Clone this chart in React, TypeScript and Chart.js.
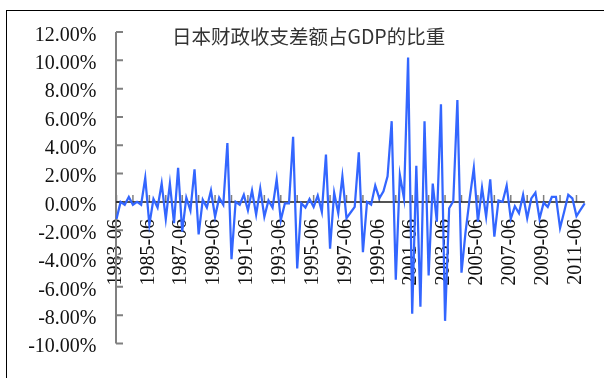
import React, { useEffect, useRef } from "react";
import { Chart, registerables } from "chart.js";

Chart.register(...registerables);

const TITLE = "日本财政收支差额占GDP的比重";

// Quarter-end dates, 1983-06 through 2011-12
const quarters: string[] = [
  "1983-06", "1983-09", "1983-12",
  "1984-03", "1984-06", "1984-09", "1984-12",
  "1985-03", "1985-06", "1985-09", "1985-12",
  "1986-03", "1986-06", "1986-09", "1986-12",
  "1987-03", "1987-06", "1987-09", "1987-12",
  "1988-03", "1988-06", "1988-09", "1988-12",
  "1989-03", "1989-06", "1989-09", "1989-12",
  "1990-03", "1990-06", "1990-09", "1990-12",
  "1991-03", "1991-06", "1991-09", "1991-12",
  "1992-03", "1992-06", "1992-09", "1992-12",
  "1993-03", "1993-06", "1993-09", "1993-12",
  "1994-03", "1994-06", "1994-09", "1994-12",
  "1995-03", "1995-06", "1995-09", "1995-12",
  "1996-03", "1996-06", "1996-09", "1996-12",
  "1997-03", "1997-06", "1997-09", "1997-12",
  "1998-03", "1998-06", "1998-09", "1998-12",
  "1999-03", "1999-06", "1999-09", "1999-12",
  "2000-03", "2000-06", "2000-09", "2000-12",
  "2001-03", "2001-06", "2001-09", "2001-12",
  "2002-03", "2002-06", "2002-09", "2002-12",
  "2003-03", "2003-06", "2003-09", "2003-12",
  "2004-03", "2004-06", "2004-09", "2004-12",
  "2005-03", "2005-06", "2005-09", "2005-12",
  "2006-03", "2006-06", "2006-09", "2006-12",
  "2007-03", "2007-06", "2007-09", "2007-12",
  "2008-03", "2008-06", "2008-09", "2008-12",
  "2009-03", "2009-06", "2009-09", "2009-12",
  "2010-03", "2010-06", "2010-09", "2010-12",
  "2011-03", "2011-06", "2011-09", "2011-12",
];

// Fiscal balance as a share of GDP, in percent
const balanceShare: number[] = [
  -1.2, 0.0, -0.2, 0.35, -0.2, 0.0, -0.2, 1.7, -1.6, 0.2,
  -0.4, 1.3, -1.2, 1.3, -1.5, 2.4, -2.1, 0.3, -0.6, 2.3,
  -2.3, 0.15, -0.4, 0.8, -1.05, 0.3, -0.2, 4.15, -4.05, 0.0,
  -0.2, 0.5, -0.6, 0.8, -0.9, 0.95, -1.05, 0.1, -0.4, 1.6,
  -1.3, -0.1, -0.1, 4.6, -4.7, -0.1, -0.4, 0.2, -0.35, 0.45,
  -0.7, 3.35, -3.3, 0.65, -0.8, 1.8, -1.15, -0.75, -0.35, 3.5,
  -3.55, 0.0, -0.2, 1.15, 0.25, 0.75, 1.8, 5.7, -5.5, 1.9,
  0.25, 10.2, -7.9, 2.55, -7.4, 5.7, -5.2, 1.3, -1.4, 6.9,
  -8.4, -0.45, 0.05, 7.2, -5.0, -2.1, 0.25, 2.4, -1.4, 1.0,
  -1.05, 1.6, -2.45, 0.1, 0.0, 1.15, -1.2, -0.3, -0.8, 0.5,
  -1.15, 0.25, 0.65, -1.2, -0.05, -0.35, 0.35, 0.35, -1.85, -0.7,
  0.5, 0.25, -1.0, -0.55, -0.1,
];

const Y_MIN = -10;
const Y_MAX = 12;
const Y_STEP = 2;
const LABEL_EVERY = 8; // a date label every two years
const TICK_EVERY = 4; // a small tick every year

const LINE_COLOR = "#3366FF";
const AXIS_GRAY = "#808080";
const TEXT_COLOR = "#111111";
const LABEL_FONT = "Liberation Serif";

// Draws the grey value axis with inward ticks, the zero line with yearly ticks, and the title
const axesAndTitle = {
  id: "axesAndTitle",
  beforeDatasetsDraw(chart: any) {
    const { ctx, chartArea, scales } = chart;
    const xs = scales.x;
    const ys = scales.y;
    const ax = chartArea.left - 0.5;
    const zeroY = ys.getPixelForValue(0);
    ctx.save();

    ctx.strokeStyle = AXIS_GRAY;
    ctx.lineWidth = 2;
    ctx.beginPath();
    ctx.moveTo(ax, ys.getPixelForValue(Y_MAX));
    ctx.lineTo(ax, ys.getPixelForValue(Y_MIN));
    for (let v = Y_MIN; v <= Y_MAX; v += Y_STEP) {
      const py = ys.getPixelForValue(v);
      ctx.moveTo(ax, py);
      ctx.lineTo(ax + 7, py);
    }
    ctx.stroke();

    ctx.lineWidth = 1.5;
    ctx.beginPath();
    for (let i = 0; i < quarters.length; i += TICK_EVERY) {
      const px = xs.getPixelForValue(i);
      ctx.moveTo(px, zeroY);
      ctx.lineTo(px, zeroY - 7);
    }
    ctx.stroke();

    ctx.strokeStyle = "#1a1a1a";
    ctx.lineWidth = 1.5;
    ctx.beginPath();
    ctx.moveTo(ax, zeroY);
    ctx.lineTo(chartArea.right, zeroY);
    ctx.stroke();
    ctx.restore();
  },
  afterDraw(chart: any) {
    const { ctx } = chart;
    ctx.save();
    ctx.font = '19.5px "Noto Sans CJK SC"';
    ctx.fillStyle = "#333333";
    ctx.textAlign = "left";
    ctx.textBaseline = "middle";
    ctx.fillText(TITLE, 172, 37);
    ctx.restore();
  },
};

export default function App() {
  const canvasRef = useRef<HTMLCanvasElement | null>(null);

  useEffect(() => {
    const canvas = canvasRef.current;
    if (!canvas) return;
    const chart = new Chart(canvas, {
      type: "line",
      data: {
        labels: quarters,
        datasets: [
          {
            data: balanceShare,
            borderColor: LINE_COLOR,
            borderWidth: 2.25,
            pointRadius: 0,
            pointHoverRadius: 0,
            tension: 0,
            fill: false,
          },
        ],
      },
      options: {
        animation: false,
        responsive: false,
        devicePixelRatio: 1,
        events: [],
        layout: { padding: { left: 0, top: 29, right: 19.3, bottom: 34.5 } },
        plugins: {
          legend: { display: false },
          title: { display: false },
          tooltip: { enabled: false },
        },
        scales: {
          x: {
            type: "category",
            position: { y: 0 } as any,
            offset: false,
            afterFit: (scale: any) => {
              scale.paddingLeft = 0;
              scale.paddingRight = 0;
            },
            grid: { display: false, drawTicks: false },
            border: { display: false },
            ticks: {
              autoSkip: false,
              minRotation: 90,
              maxRotation: 90,
              padding: 17,
              labelOffset: -1,
              color: TEXT_COLOR,
              font: { family: LABEL_FONT, size: 20 },
              callback: function (this: any, val: any, idx: number) {
                return idx % LABEL_EVERY === 0 ? this.getLabelForValue(val) : "";
              },
            },
          },
          y: {
            min: Y_MIN,
            max: Y_MAX,
            afterFit: (scale: any) => {
              scale.width = 116.5;
            },
            grid: { display: false, drawTicks: false },
            border: { display: false },
            ticks: {
              stepSize: Y_STEP,
              padding: 20,
              labelOffset: 3.5,
              color: TEXT_COLOR,
              font: { family: LABEL_FONT, size: 20 },
              callback: (v: any) => Number(v).toFixed(2) + "%",
            },
          },
        },
      },
      plugins: [axesAndTitle],
    });
    return () => chart.destroy();
  }, []);

  return (
    <div
      style={{
        position: "fixed",
        left: 0,
        top: 0,
        width: 604,
        height: 378,
        background: "#ffffff",
        overflow: "hidden",
      }}
    >
      <div
        style={{
          position: "absolute",
          left: 6,
          top: 10,
          width: 640,
          height: 420,
          border: "1px solid #000000",
          boxSizing: "border-box",
        }}
      />
      <canvas
        ref={canvasRef}
        width={604}
        height={378}
        style={{ position: "absolute", left: 0, top: 0, width: 604, height: 378 }}
      />
    </div>
  );
}
